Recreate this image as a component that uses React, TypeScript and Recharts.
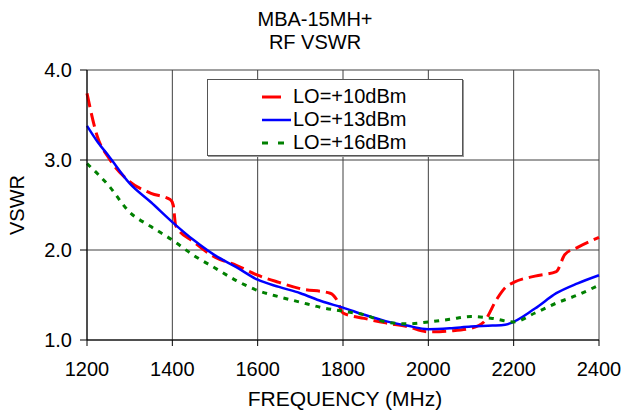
import { LineChart, Line, XAxis, YAxis, CartesianGrid } from 'recharts'

const freqTicks = [1200, 1400, 1600, 1800, 2000, 2200, 2400]
const vswrTicks = [1, 2, 3, 4]

// LO=+10dBm
const lo10Freq = [1200, 1225, 1250, 1300, 1350, 1395, 1402, 1408, 1450, 1500, 1550, 1600, 1650, 1700, 1770, 1785, 1800, 1850, 1900, 1950, 2000, 2050, 2100, 2130, 2160, 2180, 2200, 2250, 2300, 2320, 2350, 2400]
const lo10Vswr = [3.74, 3.25, 3.03, 2.76, 2.63, 2.56, 2.5, 2.27, 2.09, 1.92, 1.83, 1.72, 1.64, 1.57, 1.52, 1.45, 1.3, 1.24, 1.19, 1.15, 1.09, 1.1, 1.13, 1.2, 1.45, 1.58, 1.64, 1.71, 1.76, 1.95, 2.03, 2.14]

// LO=+13dBm
const lo13Freq = [1200, 1225, 1250, 1300, 1350, 1400, 1450, 1500, 1550, 1600, 1650, 1700, 1750, 1800, 1850, 1900, 1950, 2000, 2050, 2100, 2150, 2180, 2250, 2300, 2350, 2400]
const lo13Vswr = [3.38, 3.2, 3.05, 2.74, 2.53, 2.31, 2.11, 1.94, 1.81, 1.67, 1.59, 1.52, 1.43, 1.36, 1.28, 1.21, 1.16, 1.12, 1.13, 1.15, 1.16, 1.17, 1.35, 1.52, 1.63, 1.72]

// LO=+16dBm
const lo16Freq = [1200, 1250, 1300, 1350, 1400, 1450, 1500, 1550, 1600, 1650, 1700, 1750, 1800, 1850, 1900, 1950, 2000, 2050, 2100, 2150, 2200, 2250, 2300, 2350, 2400]
const lo16Vswr = [2.96, 2.72, 2.42, 2.26, 2.11, 1.94, 1.8, 1.66, 1.55, 1.48, 1.42, 1.36, 1.32, 1.28, 1.2, 1.18, 1.2, 1.23, 1.26, 1.24, 1.2, 1.3, 1.41, 1.5, 1.61]

const toPoints = (freq: number[], vswr: number[]) => freq.map((f, i) => ({ f, v: vswr[i] }))

const series = [
  { name: 'LO=+10dBm', data: toPoints(lo10Freq, lo10Vswr), color: '#FF0000', width: 3, dash: '14 6' },
  { name: 'LO=+13dBm', data: toPoints(lo13Freq, lo13Vswr), color: '#0000FF', width: 2.5, dash: undefined },
  { name: 'LO=+16dBm', data: toPoints(lo16Freq, lo16Vswr), color: '#008000', width: 3, dash: '5 6' },
]

const font = '"Liberation Sans", Arial, sans-serif'

export default function App() {
  return (
    <div style={{ position: 'absolute', left: 0, top: 0, width: 634, height: 416, background: '#fff', fontFamily: font, color: '#000' }}>
      <div style={{ position: 'absolute', left: 0, width: 634, top: 8, textAlign: 'center', fontSize: 20, lineHeight: '23px' }}>
        <div style={{ marginLeft: -4 }}>MBA-15MH+</div>
        <div style={{ marginLeft: -4 }}>RF VSWR</div>
      </div>
      <div
        style={{
          position: 'absolute',
          left: 17,
          top: 205,
          fontSize: 20,
          transform: 'translate(-50%, -50%) rotate(-90deg)',
          whiteSpace: 'nowrap',
        }}
      >
        VSWR
      </div>
      <div style={{ position: 'absolute', left: 245, width: 200, top: 387, textAlign: 'center', fontSize: 21, whiteSpace: 'nowrap' }}>
        FREQUENCY (MHz)
      </div>

      <LineChart width={634} height={416} margin={{ top: 70, right: 35, bottom: 0, left: 0 }} style={{ position: 'absolute', left: 0, top: 0 }}>
        <CartesianGrid stroke="#404040" strokeWidth={1} />
        <XAxis
          type="number"
          dataKey="f"
          domain={[1200, 2400]}
          ticks={freqTicks}
          height={76}
          tickSize={6}
          tickMargin={16}
          stroke="#000"
          tick={{ fill: '#000', fontSize: 20, fontFamily: font }}
          allowDuplicatedCategory={false}
        />
        <YAxis
          type="number"
          domain={[1, 4]}
          ticks={vswrTicks}
          width={87}
          tickSize={7}
          tickMargin={8}
          stroke="#000"
          tickFormatter={(v: number) => v.toFixed(1)}
          tick={{ fill: '#000', fontSize: 20, fontFamily: font }}
        />
        {series.map((s) => (
          <Line
            key={s.name}
            data={s.data}
            dataKey="v"
            name={s.name}
            type="monotone"
            stroke={s.color}
            strokeWidth={s.width}
            strokeDasharray={s.dash}
            dot={false}
            isAnimationActive={false}
          />
        ))}
      </LineChart>

      <div
        style={{
          position: 'absolute',
          left: 207,
          top: 79,
          width: 254,
          height: 75,
          border: '1px solid #555',
          background: '#fff',
          boxShadow: '1px 1px 0 #999',
        }}
      >
        {series.map((s, i) => (
          <div key={s.name} style={{ position: 'absolute', left: 54, top: 5 + i * 23, height: 23, display: 'flex', alignItems: 'center' }}>
            <svg width={29} height={6} style={{ marginRight: 2 }}>
              <line x1={0} y1={3} x2={29} y2={3} stroke={s.color} strokeWidth={s.width} strokeDasharray={i === 0 ? '19 12' : i === 2 ? '6 10' : undefined} />
            </svg>
            <span style={{ fontSize: 20 }}>{s.name}</span>
          </div>
        ))}
      </div>
    </div>
  )
}
